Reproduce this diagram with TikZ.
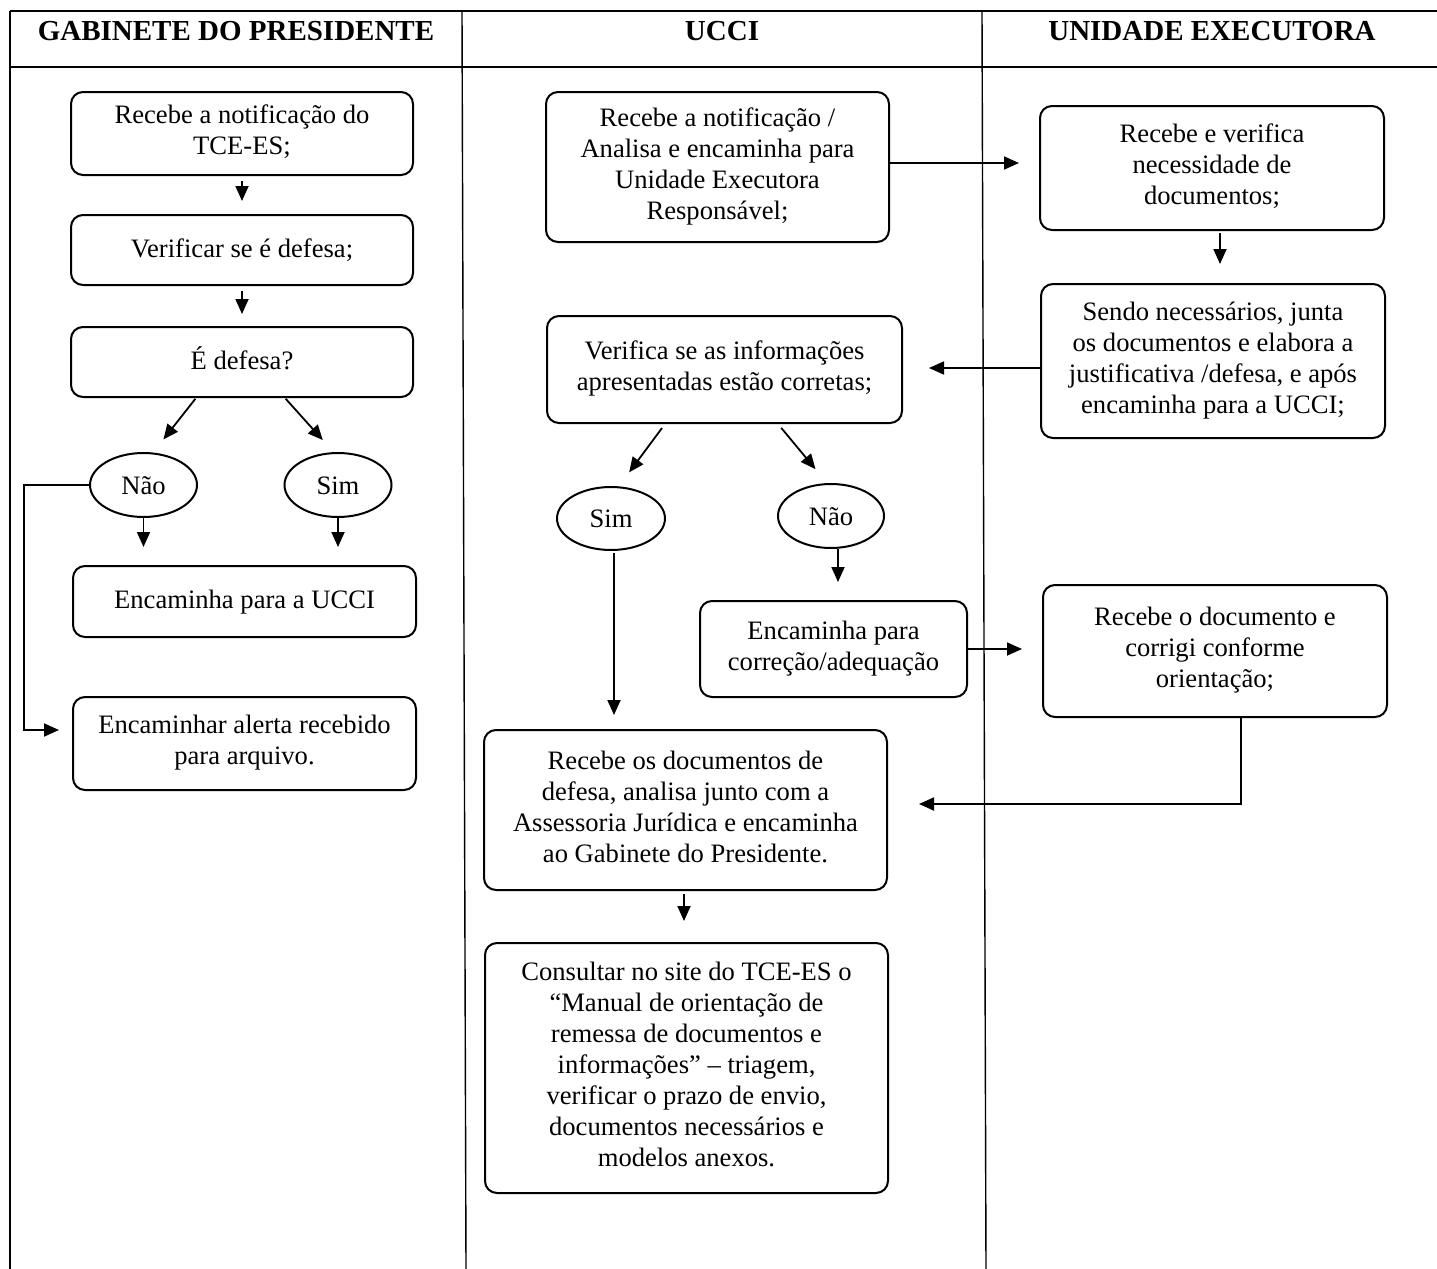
\documentclass[tikz,border=0pt]{standalone}
\usepackage{fontspec}
\setmainfont{Liberation Serif}
\usetikzlibrary{arrows.meta,shapes.geometric}

\begin{document}
\begin{tikzpicture}[x=0.5pt, y=-0.5pt, font=\fontsize{13.3}{15.5}\selectfont,
  box/.style={draw, line width=1pt, rounded corners=6pt, align=center, inner sep=2pt,
    execute at begin node={\rule{0pt}{10.5pt}}, execute at end node={\rule[-3.5pt]{0pt}{0pt}}},
  choice/.style={draw, ellipse, line width=1pt, inner sep=0pt, text height=12.5pt, text depth=3.5pt},
  flow/.style={line width=0.9pt, -{Triangle[length=7.5pt,width=6.5pt]}, shorten >=#1},
  flow/.default=6pt,
  lane/.style={line width=0.7pt},
  head/.style={font=\fontsize{14.5}{17}\selectfont\bfseries}]
\useasboundingbox (0,0) rectangle (1437,1269);
% lanes
\draw[lane] (10,11) -- (1437,11);
\draw[lane, line width=1.4pt] (10,67) -- (1437,67);
\draw[lane] (10,11) -- (10,1269);
\draw[lane] (462,11) -- (466,1269);
\draw[lane] (982,11) -- (986,1269);
\node[head] (hgab) at (236,31) {GABINETE DO PRESIDENTE};
\node[head] (hucci) at (722,31) {UCCI};
\node[head] (hue) at (1212,31) {UNIDADE EXECUTORA};
% gabinete do presidente
\node[box, minimum width=171pt, minimum height=41.5pt] (rec) at (242,133.5) {Recebe a notificação do\\TCE-ES;};
\node[box, minimum width=171pt, minimum height=35pt] (verif) at (242,250) {Verificar se é defesa;};
\node[box, minimum width=171pt, minimum height=35pt] (edefesa) at (242,362) {É defesa?};
\node[choice, minimum width=53.5pt, minimum height=32pt] (nao) at (143.5,485) {Não};
\node[choice, minimum width=53.5pt, minimum height=32pt] (sim) at (338,485) {Sim};
\node[box, minimum width=171.5pt, minimum height=35.5pt] (encucci) at (244.5,601.5) {Encaminha para a UCCI};
\node[box, minimum width=171.5pt, minimum height=46.5pt] (alerta) at (244.5,743.5) {Encaminhar alerta recebido\\para arquivo.};
\draw[flow=6.5pt, shorten <=2.5pt] (rec) -- (verif);
\draw[flow, shorten <=2.5pt] (verif) -- (edefesa);
\draw[flow=8pt, shorten <=0.5pt] ([xshift=-23pt]edefesa.south) -- ([xshift=5pt]nao.north);
\draw[flow=8pt, shorten <=0.5pt] ([xshift=21.5pt]edefesa.south) -- ([xshift=-2.25pt]sim.north);
\draw[flow=9pt] (nao.south) -- (nao.south |- encucci.north);
\draw[flow=9pt] (sim.south) -- (sim.south |- encucci.north);
\draw[flow=6.5pt] (nao.west) -- ++(-65,0) |- ([yshift=6.75pt]alerta.west);
% ucci
\node[box, minimum width=171.5pt, minimum height=75pt] (recnot) at (717.5,167) {Recebe a notificação /\\Analisa e encaminha para\\Unidade Executora\\Responsável;};
\node[box, minimum width=177.5pt, minimum height=53.5pt] (verinfo) at (724.5,369.5) {Verifica se as informações\\apresentadas estão corretas;};
\node[choice, minimum width=54pt, minimum height=31.5pt] (simu) at (611,518.5) {Sim};
\node[choice, minimum width=53pt, minimum height=32pt] (naou) at (831,516) {Não};
\node[box, minimum width=133.5pt, minimum height=48pt] (corr) at (833.5,649) {Encaminha para\\correção/adequação};
\node[box, minimum width=201.5pt, minimum height=80pt] (recdoc) at (685.5,810) {Recebe os documentos de\\defesa, analisa junto com a\\Assessoria Jurídica e encaminha\\ao Gabinete do Presidente.};
\node[box, minimum width=201.5pt, minimum height=125pt] (consult) at (686.5,1068) {Consultar no site do TCE-ES o\\“Manual de orientação de\\remessa de documentos e\\informações” – triagem,\\verificar o prazo de envio,\\documentos necessários e\\modelos anexos.};
% unidade executora
\node[box, minimum width=172pt, minimum height=62pt] (recver) at (1212,168) {Recebe e verifica\\necessidade de\\documentos;};
\node[box, minimum width=172pt, minimum height=77pt] (junta) at (1213,361) {Sendo necessários, junta\\os documentos e elabora a\\justificativa /defesa, e após\\encaminha para a UCCI;};
\node[box, minimum width=172pt, minimum height=66pt] (corrige) at (1215,651) {Recebe o documento e\\corrigi conforme\\orientação;};
\draw[flow=10pt] ([yshift=2pt]recnot.east) -- ([yshift=2pt]recnot.east -| recver.west);
\draw[flow=9.5pt, shorten <=1pt] ([xshift=4pt]recver.south) -- ([xshift=4pt]recver.south |- junta.north);
\draw[flow=13pt] ([yshift=-3.5pt]junta.west) -- ([yshift=-3.5pt]junta.west -| verinfo.east);
\draw[flow=8.5pt, shorten <=2.5pt] ([xshift=-29.75pt]verinfo.south) -- ([xshift=4pt]simu.north);
\draw[flow=9pt, shorten <=2.5pt] ([xshift=26.75pt]verinfo.south) -- ([xshift=-2pt]naou.north);
\draw[flow=7pt, shorten <=1pt] ([xshift=1.5pt]simu.south) -- ([xshift=1.5pt]simu.south |- recdoc.north);
\draw[flow=9pt] ([xshift=3.5pt]naou.south) -- ([xshift=3.5pt]naou.south |- corr.north);
\draw[flow=10pt] (corr.east) -- (corr.east -| corrige.west);
\draw[flow=15.5pt] ([xshift=13pt]corrige.south) |- ([yshift=3pt]recdoc.east);
\draw[flow=10.5pt, shorten <=1.5pt] ([xshift=-0.75pt]recdoc.south) -- ([xshift=-0.75pt]recdoc.south |- consult.north);
\end{tikzpicture}
\end{document}
